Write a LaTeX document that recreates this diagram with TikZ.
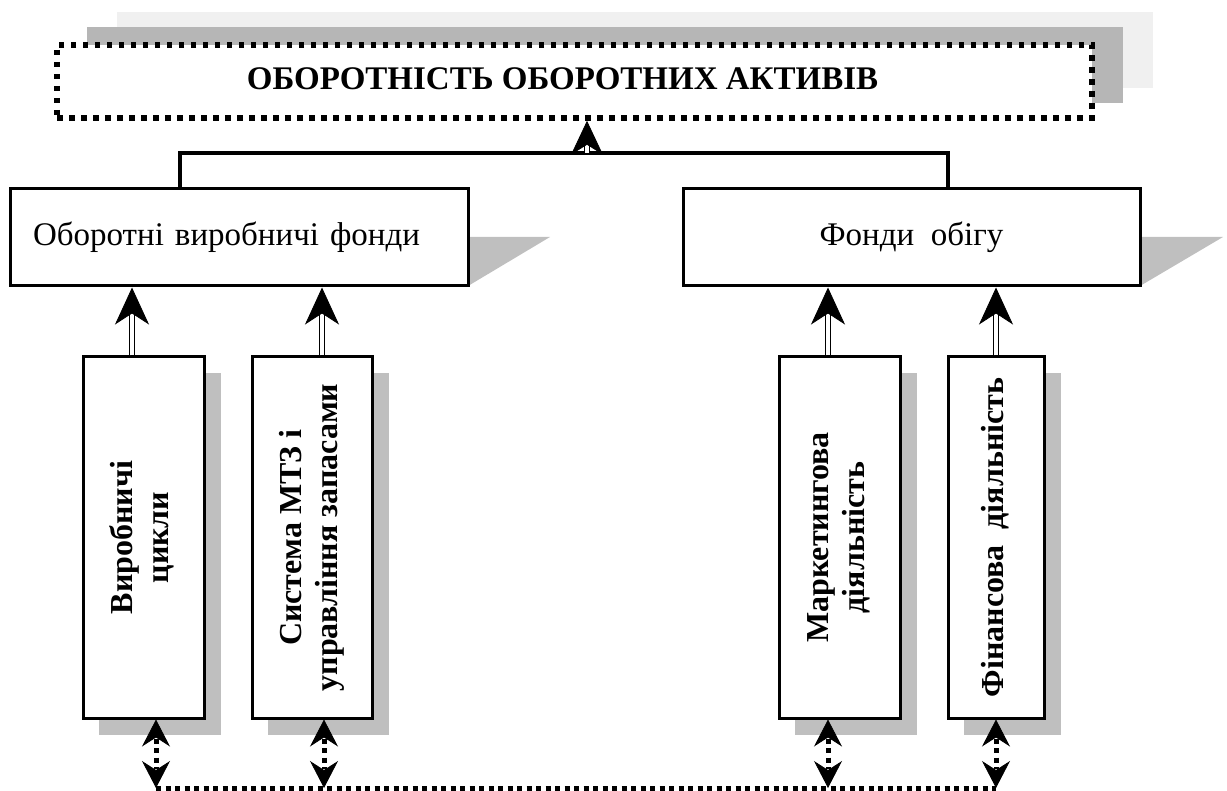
\documentclass[tikz,border=0pt]{standalone}
\usepackage{fontspec}
\usepackage{graphicx}
\setmainfont{Liberation Serif}
\usetikzlibrary{arrows.meta}
\definecolor{shadowgray}{RGB}{191,191,191}
\definecolor{topshadowdark}{RGB}{182,182,182}
\definecolor{topshadowlight}{RGB}{240,240,240}
\tikzset{
  topbox/.style={draw=black, fill=white, line width=5.5pt, dash pattern=on 5.5pt off 6.5pt,
    minimum width=1035pt, minimum height=73pt, inner sep=0pt,
    font=\bfseries\fontsize{33}{38}\selectfont},
  midbox/.style={draw=black, fill=white, line width=3pt, minimum height=97pt, inner sep=0pt,
    font=\fontsize{33}{37}\selectfont},
  vbox/.style={draw=black, fill=white, line width=3pt, minimum height=361pt, inner sep=0pt,
    font=\bfseries\fontsize{32}{36}\selectfont},
  bar/.style={draw=black, line width=4.5pt, line join=miter},
  upshaft/.style={draw=black, double=white, line width=1.5pt, double distance=3.5pt, shorten >=22pt},
  uptip/.style={draw=black, fill=black, line width=0.8pt,
    -{Stealth[length=37pt 0 0, width=34pt 0 0, inset=11pt 0 0]}},
  toptip/.style={draw=black, fill=black, line width=0.8pt,
    -{Stealth[length=34pt 0 0, width=32pt 0 0, inset=10pt 0 0]}},
  dotconn/.style={draw=black, line width=5pt, dash pattern=on 5pt off 4.5pt},
  dotshaft/.style={draw=black, line width=5pt, dash pattern=on 5pt off 4.5pt, shorten <=19pt, shorten >=19pt},
  dottip/.style={draw=black, fill=black, line width=0.8pt,
    -{Stealth[length=27pt 0 0, width=28pt 0 0, inset=9pt 0 0]}},
}
\begin{document}
\begin{tikzpicture}[x=1pt,y=-1pt]
\useasboundingbox (0,0) rectangle (1227,791);

% shadows of the title box
\fill[topshadowlight] (117,12) rectangle (1153,88);
\fill[topshadowdark] (87,27) rectangle (1123,103);

% title
\node[topbox] (top) at (574.5,81.5) {\hspace*{-24pt}\raisebox{6pt}{ОБОРОТНІСТЬ ОБОРОТНИХ АКТИВІВ}};

% shadows of middle boxes
\fill[shadowgray] (468,237) -- (550,237) -- (468,286) -- cycle;
\fill[shadowgray] (1140,237) -- (1223,237) -- (1140,286) -- cycle;

% middle boxes
\node[midbox, minimum width=458pt, text width=412pt, inner xsep=23pt, align=left] (m1) at (239,237.5) {Оборотні виробничі фонди};
\node[midbox, minimum width=457pt] (m2) at (911.5,237.5) {Фонди\ \ обігу};

% shadows of vertical boxes
\fill[shadowgray] (99,373) rectangle (221,735);
\fill[shadowgray] (268,373) rectangle (389,735);
\fill[shadowgray] (795,373) rectangle (917,735);
\fill[shadowgray] (964,373) rectangle (1061,735);

% vertical boxes
\node[vbox, minimum width=121pt] (b1) at (143.5,537.5) {\rotatebox{90}{\begin{tabular}{@{}c@{}}Виробничі\\цикли\end{tabular}}};
\node[vbox, minimum width=120pt] (b2) at (312,537.5) {\rotatebox{90}{\begin{tabular}{@{}c@{}}Система МТЗ і\\управління запасами\end{tabular}}};
\node[vbox, minimum width=121pt] (b3) at (839.5,537.5) {\rotatebox{90}{\begin{tabular}{@{}c@{}}Маркетингова\\діяльність\end{tabular}}};
\node[vbox, minimum width=96pt] (b4) at (996,537.5) {\rotatebox{90}{\begin{tabular}{@{}c@{}}Фінансова\ \ діяльність\end{tabular}}};

% junction bar to title
\coordinate (j) at (587,153);
\coordinate (jt) at (j |- top.south);
\draw[bar] ([xshift=-59pt]m1.north) |- (j) -| ([xshift=36.5pt]m2.north);
\draw[upshaft] (j) -- (jt);
\draw[toptip] ([yshift=-6pt]jt) -- (jt);

% arrows from vertical boxes up to middle boxes
\coordinate (a1s) at ([xshift=-11.5pt]b1.north);
\coordinate (a1e) at (a1s |- m1.south);
\coordinate (a2s) at ([xshift=10pt]b2.north);
\coordinate (a2e) at (a2s |- m1.south);
\coordinate (a3s) at ([xshift=-11.5pt]b3.north);
\coordinate (a3e) at (a3s |- m2.south);
\coordinate (a4s) at (b4.north);
\coordinate (a4e) at (a4s |- m2.south);
\foreach \k in {1,2,3,4}{
  \draw[upshaft] (a\k s) -- (a\k e);
  \draw[uptip] ([yshift=-6pt]a\k e) -- (a\k e);
}

% bottom dotted links
\coordinate (u1) at ([xshift=12.5pt]b1.south);
\coordinate (u2) at ([xshift=12pt]b2.south);
\coordinate (u3) at ([xshift=-11.5pt]b3.south);
\coordinate (u4) at (b4.south);
\coordinate (d1) at (u1 |- 0,788);
\coordinate (d2) at (u2 |- 0,788);
\coordinate (d3) at (u3 |- 0,788);
\coordinate (d4) at (u4 |- 0,788);
\draw[dotconn] (d1) -- (d4);
\foreach \k in {1,2,3,4}{
  \draw[dotshaft] (u\k) -- (d\k);
  \draw[dottip] ([yshift=-6pt]u\k) -- (u\k);
  \draw[dottip] ([yshift=6pt]d\k) -- (d\k);
}
\end{tikzpicture}
\end{document}
